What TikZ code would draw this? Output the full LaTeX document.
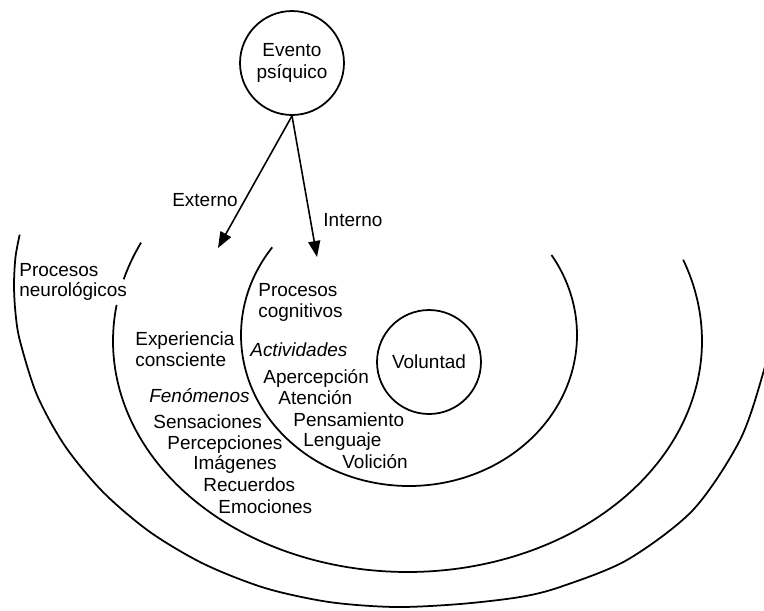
\documentclass[tikz,border=0pt]{standalone}
\usepackage{fontspec}
\setmainfont{Liberation Sans}
\usetikzlibrary{arrows.meta}
\begin{document}
\begin{tikzpicture}[x=0.02cm,y=-0.02cm,
  arcline/.style={line width=1pt, black},
  lbl/.style={font=\fontsize{10.8}{11.8}\selectfont, inner sep=0pt},
  lblw/.style={lbl, anchor=west, align=left},
  lblb/.style={lbl, anchor=base west},
  ring/.style={circle, draw, line width=1pt, minimum size=2.08cm, inner sep=0pt, align=center, font=\fontsize{10.8}{12.4}\selectfont},
  arr/.style={line width=0.9pt, -{Triangle[length=0.32cm,width=0.24cm]}}]
\useasboundingbox (0,0) rectangle (764,610);
% rings
\begin{scope}
\clip (0,0) rectangle (764,610);
\draw[arcline] plot[smooth] coordinates {(19.7,234.6) (15.5,257) (14,285) (15.5,313) (20,341) (37,395) (65,446) (103,492) (150,532) (204,564) (265,588) (329,602) (395,607) (460,604) (520,597) (560,587) (627,560) (693,510) (740,440) (764,370) (778,310)};
\end{scope}
\draw[arcline] plot[domain=-20.6:189, samples=160] ({407.5+294.5*cos(\x)},{341+231*sin(\x)});
\draw[arcline] plot[domain=195.5:205.2, samples=20] ({407.5+294.5*cos(\x)},{341+231*sin(\x)});
\draw[arcline] plot[domain=-32:215.5, samples=160] ({409+168*cos(\x)},{335+151*sin(\x)});
% circles
\node[ring] (evento) at (292,63) {Evento\\psíquico};
\node[ring] (voluntad) at (429,362) {Voluntad};
% arrows
\coordinate (ext) at (218,248);
\coordinate (int) at (317,257);
\draw[arr] (evento.south) -- (ext);
\draw[arr] (evento.south) -- (int);
\node[lbl, anchor=base] (lext) at (205,206) {Externo};
\node[lbl, anchor=base] (lint) at (353,226) {Interno};
% labels
\node[lblw] (neuro) at (19,282) {Procesos\\neurológicos};
\node[lblw] (exper) at (135,349.5) {Experiencia\\consciente};
\node[lblb] (fen) at (149,402) {\itshape Fenómenos};
\node[lblb] (sens) at (153,428) {Sensaciones};
\node[lblb] (perc) at (167,449) {Percepciones};
\node[lblb] (imag) at (193,469) {Imágenes};
\node[lblb] (recu) at (203,491) {Recuerdos};
\node[lblb] (emoc) at (218,513) {Emociones};
\node[lblw] (cogn) at (258,302.5) {Procesos\\cognitivos};
\node[lblb] (activ) at (250,356) {\itshape Actividades};
\node[lblb] (aperc) at (263,383) {Apercepción};
\node[lblb] (aten) at (278,404) {Atención};
\node[lblb] (pens) at (293,426) {Pensamiento};
\node[lblb] (leng) at (303,446) {Lenguaje};
\node[lblb] (voli) at (342,468) {Volición};
\end{tikzpicture}
\end{document}
